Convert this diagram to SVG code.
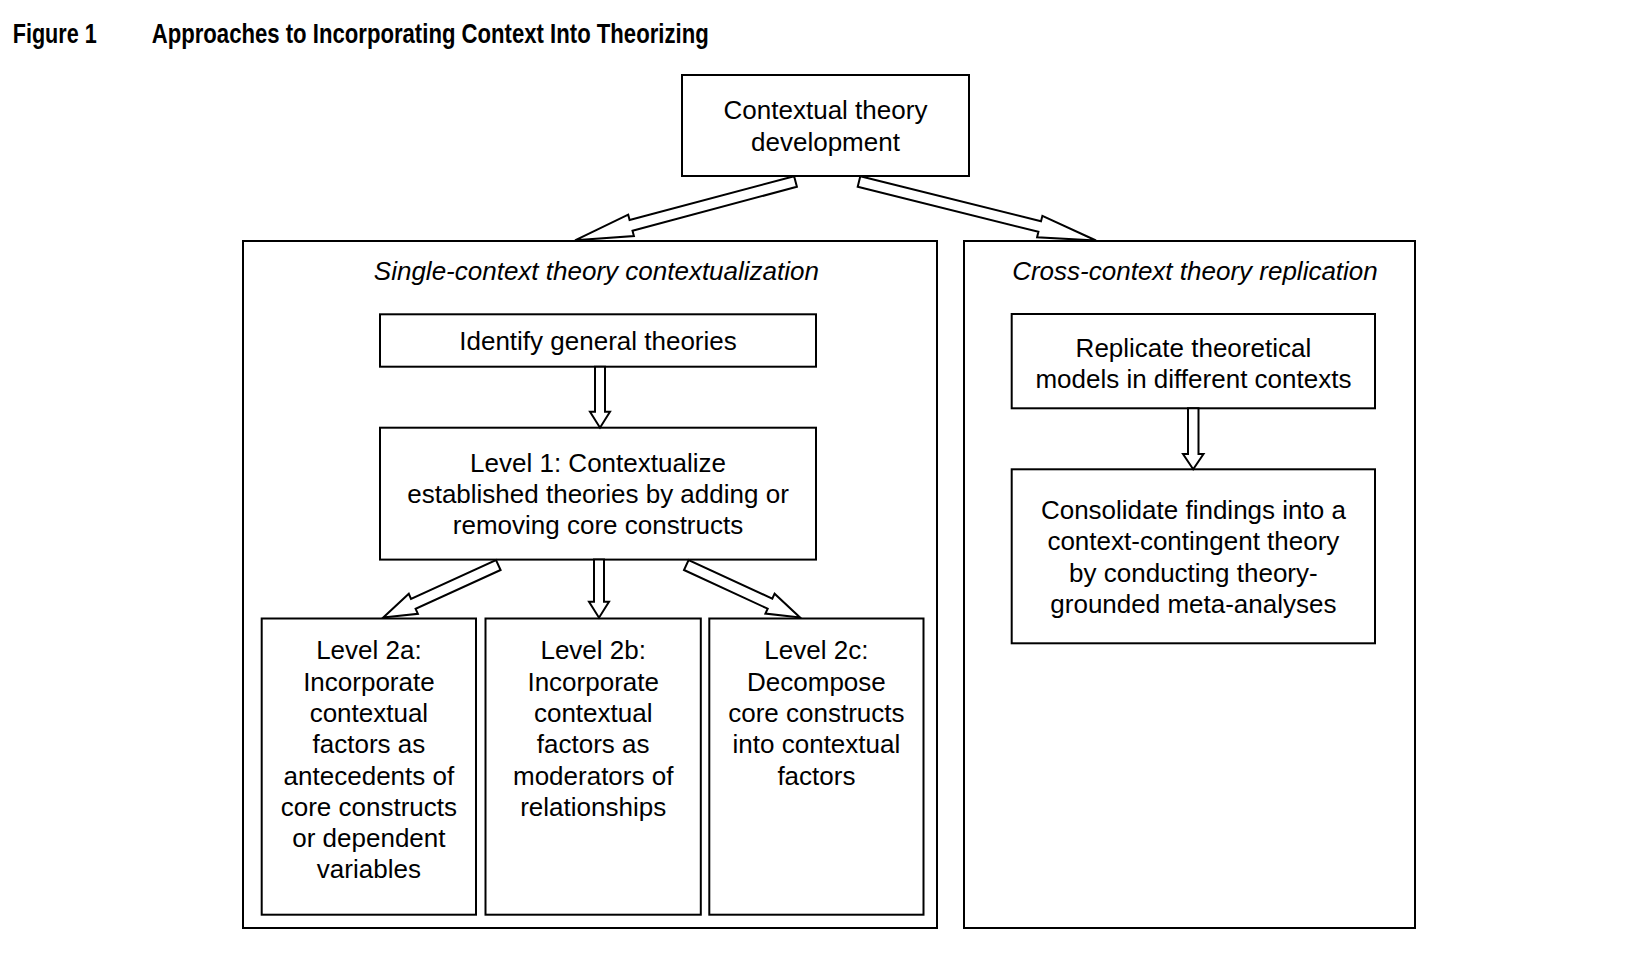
<svg xmlns="http://www.w3.org/2000/svg" width="1640" height="956" viewBox="0 0 1640 956">
<style>
  .box { fill: #fff; stroke: #000; stroke-width: 2; }
  .arr { fill: #fff; stroke: #000; stroke-width: 2; stroke-linejoin: miter; }
  .t { font-family: "Liberation Sans", Arial, Helvetica, sans-serif; font-size: 26px; fill: #000; text-anchor: middle; }
  .it { font-style: italic; }
  .title { font-family: "Liberation Sans Narrow", "Liberation Sans", Arial, sans-serif; font-size: 27px; font-weight: bold; fill: #000; }
</style>
<rect x="0" y="0" width="1640" height="956" fill="#fff"/>
<g id="title">
  <text class="title" x="12.7" y="43.3" textLength="84" lengthAdjust="spacingAndGlyphs">Figure 1</text>
  <text class="title" x="151.7" y="43.3" textLength="557" lengthAdjust="spacingAndGlyphs">Approaches to Incorporating Context Into Theorizing</text>
</g>
<g id="node-contextual-theory-development">
  <rect class="box" x="682" y="75" width="287" height="101"/>
  <text class="t" x="825.5" y="119.3">Contextual theory</text>
  <text class="t" x="825.5" y="150.6">development</text>
</g>
<g id="node-single-context">
  <rect class="box" x="243" y="241" width="694" height="687"/>
  <text class="t it" x="596.4" y="280">Single-context theory contextualization</text>
</g>
<g id="node-cross-context">
  <rect class="box" x="964" y="241" width="451" height="687"/>
  <text class="t it" x="1195" y="280">Cross-context theory replication</text>
</g>
<g id="node-identify">
  <rect class="box" x="380" y="314.3" width="436" height="52.4"/>
  <text class="t" x="598" y="349.6">Identify general theories</text>
</g>
<g id="node-level1">
  <rect class="box" x="380" y="427.7" width="436" height="131.9"/>
  <text class="t" x="598" y="471.7">Level 1: Contextualize</text>
  <text class="t" x="598" y="503">established theories by adding or</text>
  <text class="t" x="598" y="534.3">removing core constructs</text>
</g>
<g id="node-level2a">
  <rect class="box" x="261.7" y="618.5" width="214.3" height="296.2"/>
  <text class="t" x="368.9" y="659.3">Level 2a:</text>
  <text class="t" x="368.9" y="690.6">Incorporate</text>
  <text class="t" x="368.9" y="721.9">contextual</text>
  <text class="t" x="368.9" y="753.2">factors as</text>
  <text class="t" x="368.9" y="784.5">antecedents of</text>
  <text class="t" x="368.9" y="815.8">core constructs</text>
  <text class="t" x="368.9" y="847.1">or dependent</text>
  <text class="t" x="368.9" y="878.4">variables</text>
</g>
<g id="node-level2b">
  <rect class="box" x="485.5" y="618.5" width="215.3" height="296.2"/>
  <text class="t" x="593.2" y="659.3">Level 2b:</text>
  <text class="t" x="593.2" y="690.6">Incorporate</text>
  <text class="t" x="593.2" y="721.9">contextual</text>
  <text class="t" x="593.2" y="753.2">factors as</text>
  <text class="t" x="593.2" y="784.5">moderators of</text>
  <text class="t" x="593.2" y="815.8">relationships</text>
</g>
<g id="node-level2c">
  <rect class="box" x="709.3" y="618.5" width="214.2" height="296.2"/>
  <text class="t" x="816.4" y="659.3">Level 2c:</text>
  <text class="t" x="816.4" y="690.6">Decompose</text>
  <text class="t" x="816.4" y="721.9">core constructs</text>
  <text class="t" x="816.4" y="753.2">into contextual</text>
  <text class="t" x="816.4" y="784.5">factors</text>
</g>
<g id="node-replicate">
  <rect class="box" x="1011.7" y="314" width="363.3" height="94.3"/>
  <text class="t" x="1193.4" y="356.5">Replicate theoretical</text>
  <text class="t" x="1193.4" y="387.6">models in different contexts</text>
</g>
<g id="node-consolidate">
  <rect class="box" x="1011.7" y="469.3" width="363.3" height="174"/>
  <text class="t" x="1193.4" y="519">Consolidate findings into a</text>
  <text class="t" x="1193.4" y="550.3">context-contingent theory</text>
  <text class="t" x="1193.4" y="581.6">by conducting theory-</text>
  <text class="t" x="1193.4" y="612.9">grounded meta-analyses</text>
</g>
<g id="connectors">
  <path class="arr" d="M796.9,186.8 L632.5,230.7 L633.9,236.0 L575,240.3 L628.2,214.7 L629.6,220.0 L794.1,176.2 Z"/>
  <path class="arr" d="M857.7,186.8 L1038.4,231.8 L1037.1,237.2 L1096,240.5 L1042.4,215.8 L1041.0,221.2 L860.3,176.2 Z"/>
  <path class="arr" d="M595,366.7 L595,411.7 L590,411.7 L600,427.7 L610,411.7 L605,411.7 L605,366.7 Z"/>
  <path class="arr" d="M500.6,570.0 L415.6,608.8 L417.9,613.8 L383.3,617.5 L408.8,593.8 L411.0,598.8 L496.0,560.0 Z"/>
  <path class="arr" d="M594,559.6 L594,601.7 L589,601.7 L599,617.7 L609,601.7 L604,601.7 L604,559.6 Z"/>
  <path class="arr" d="M684.0,570.0 L767.7,608.7 L765.4,613.6 L800,617.5 L774.6,593.7 L772.3,598.7 L688.6,560.0 Z"/>
  <path class="arr" d="M1188,408.3 L1188,454 L1183,454 L1193.2,469.3 L1203.5,454 L1198.5,454 L1198.5,408.3 Z"/>
</g>
</svg>
